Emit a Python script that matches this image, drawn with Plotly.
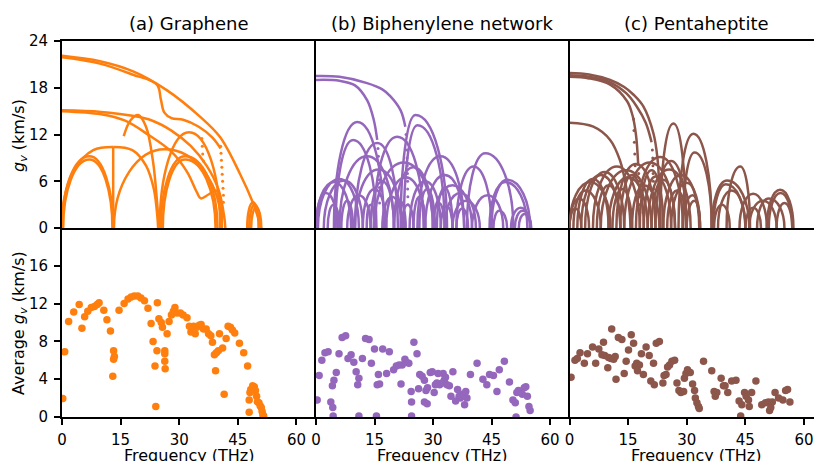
import plotly.graph_objects as go

W, H = 814, 461
ORANGE = "#ff7f0e"
PURPLE = "#9467bd"
BROWN = "#8c564b"
FONT = "DejaVu Sans"

# ---------------- top row: group-velocity curves (frequency THz, gv km/s) ----------------
graphene_lines = [
    [(0, 22.1), (9.7, 21.4), (18.2, 20.1), (26.8, 17.7), (35.3, 14.3), (40.4, 11.7), (45.5, 7.0), (48.9, 3.2), (50.4, 1.0), (51.0, 0.0)],
    [(0, 21.9), (9.7, 21.1), (18.0, 19.7), (24.3, 18.4), (25.3, 16.5), (26.2, 14.8), (28.0, 14.1), (31.0, 13.9), (35.0, 13.0), (38.5, 11.6), (40.6, 10.2)],
    [(0, 15.1), (10, 14.9), (18, 14.4), (23, 13.8), (28, 12.5), (33, 10.5), (37, 8.0), (40, 5.0), (41.5, 1.5), (41.8, 0)],
    [(0, 15.0), (10, 14.6), (16, 13.8), (22, 12.0), (28, 9.8), (32, 7.2), (34.5, 4.6), (35.5, 3.8), (37.5, 4.3), (39.5, 4.8), (40.5, 4.0), (40.9, 0)],
    [(13.1, 0), (13.1, 10.4)],
    [(0, 0), (0.4, 3.3), (3, 7.4), (8, 10.0), (13.1, 10.4)],
    [(13.1, 10.4), (18, 10.0), (21.5, 8.0), (23.5, 5.0), (24.4, 1.5), (24.6, 0)],
    [(15.8, 11.8), (17.5, 13.8), (19.5, 14.5), (21.5, 13.0), (23.3, 8.5), (24.3, 3.5), (24.8, 0)],
]
# arcs: (start f, peak f, peak gv, end f)
graphene_arcs = [
    (0.0, 7.0, 9.2, 13.1), (0.3, 7.0, 8.8, 12.9), (13.3, 26.3, 10.1, 40.8),
    (25.3, 31.5, 9.2, 39.8), (25.8, 31.5, 8.8, 39.3), (25.0, 32.5, 12.3, 40.5),
    (47.4, 48.9, 3.3, 50.3), (47.9, 49.3, 3.0, 50.8), (48.4, 49.7, 2.6, 51.0),
]
graphene_dots = [(40.6, 10.5), (40.7, 9.6), (40.8, 8.7), (40.9, 7.8), (41.0, 6.9), (41.1, 6.0), (41.2, 5.1),
                 (41.3, 4.2), (41.3, 3.3), (35.8, 11.5), (35.9, 10.5), (36.0, 9.5), (36.2, 8.6)]

biph_lines = [
    [(0, 19.5), (6, 19.4), (13.1, 18.6), (17, 17.8), (19.1, 16.9), (21.7, 15.1), (22.9, 13.0)],
    [(0, 19.0), (6, 18.9), (10, 18.3), (13.1, 16.4), (14.8, 13.9), (15.7, 11.3)],
]
biph_arcs = [
    (4.6, 10.6, 13.6, 17.4), (5.0, 9.5, 11.3, 15.5), (10.0, 15.7, 10.9, 21.0), (14.8, 20.8, 11.7, 27.6),
    (21.7, 25.5, 14.5, 33.6), (22.5, 26.0, 13.2, 33.0), (38.7, 43.4, 9.6, 50.6), (45.0, 49.0, 6.2, 54.9),
    (44.5, 48.5, 5.9, 54.2), (6.0, 13.1, 9.2, 20.0), (15.0, 22.5, 8.4, 30.0), (26.0, 31.9, 9.2, 38.0),
    (36.0, 40.4, 7.9, 45.0), (0.0, 4.6, 5.9, 9.0), (2.0, 7.2, 6.1, 12.0), (0.0, 2.5, 4.5, 5.5),
    (10.0, 16.0, 7.5, 22.0), (18.0, 23.0, 6.5, 28.0), (28.0, 33.0, 6.8, 38.0), (30.0, 35.0, 5.5, 40.0),
    (33.0, 37.0, 4.5, 41.0), (40.0, 44.0, 4.2, 48.0), (50.0, 52.5, 2.6, 55.0), (51.0, 53.0, 2.2, 55.2),
    (12.0, 15.0, 5.0, 18.0), (20.0, 25.0, 7.8, 30.0), (24.0, 28.0, 6.0, 32.0), (8.0, 11.0, 4.2, 14.0),
    (35.0, 38.5, 3.5, 42.0), (45.5, 47.0, 2.2, 49.0), (17.0, 19.5, 4.0, 22.0), (0.5, 6.0, 6.3, 11.0),
    (20.0, 21.5, 3.5, 23.0), (22.0, 23.5, 3.0, 25.0), (25.0, 26.5, 4.0, 28.0), (30.0, 31.5, 3.2, 33.0),
    (32.0, 33.5, 2.8, 35.0), (13.0, 14.0, 3.0, 15.0), (3.0, 4.5, 3.0, 6.0), (6.5, 8.0, 3.5, 9.5),
    (26.5, 28.5, 5.0, 30.5), (31.0, 33.0, 5.2, 35.0), (14.0, 17.0, 6.0, 20.0), (36.0, 37.5, 2.5, 39.0),
    (52.0, 53.5, 1.8, 55.0),
]
biph_dots = [(23.1, 12.0), (23.2, 11.0), (23.3, 10.0), (23.35, 9.0), (23.4, 8.0), (23.45, 7.0), (23.5, 6.0),
             (23.5, 5.0), (23.55, 4.0), (23.6, 3.0), (15.9, 10.2), (16.0, 9.2), (16.1, 8.2), (16.15, 7.2),
             (16.2, 6.2), (16.25, 5.2), (16.3, 4.2), (16.3, 3.2)]

penta_lines = [
    [(0, 19.9), (5, 19.7), (10.4, 19.0), (14, 18.1), (16.4, 17.1), (18.9, 15.6), (21.5, 12.1), (22.5, 9.0), (23.0, 5.0), (23.3, 0)],
    [(0, 19.6), (5, 19.4), (10.4, 18.7), (14.5, 17.3), (17.2, 15.6), (19.5, 13.5), (21.0, 11.0)],
    [(0, 19.4), (5, 19.2), (10.4, 18.4), (14.7, 16.3), (16.1, 14.5), (17.0, 12.0), (17.6, 8.0)],
    [(0, 13.5), (6.1, 13.0), (10.4, 11.3), (12.9, 8.7), (14.6, 5.0), (15.4, 2.0), (15.6, 0)],
]
penta_arcs = [
    (23.2, 26.6, 13.4, 29.8), (27.9, 31.7, 12.1, 36.4), (29.0, 32.0, 9.7, 36.4), (40.2, 43.7, 7.9, 46.2),
    (36.4, 40.3, 6.1, 46.0), (36.8, 40.0, 5.6, 45.0), (43.5, 47.0, 4.4, 50.5), (50.5, 53.9, 4.9, 57.3),
    (51.0, 54.0, 4.5, 57.0), (46.0, 49.5, 3.5, 53.0), (48.0, 51.0, 3.8, 55.0), (0.0, 5.3, 5.9, 10.5),
    (1.0, 4.0, 4.8, 8.0), (6.0, 12.1, 7.9, 18.0), (17.0, 23.2, 9.1, 29.0), (14.0, 20.5, 8.4, 27.0),
    (8.0, 14.5, 7.4, 21.0), (20.0, 25.5, 7.5, 31.0), (24.0, 28.5, 6.8, 33.2), (10.0, 15.0, 6.5, 20.0),
    (16.0, 19.0, 5.5, 23.0), (26.0, 30.0, 5.8, 33.4), (3.0, 8.0, 6.8, 13.0), (12.0, 17.0, 8.2, 22.0),
    (19.0, 22.0, 6.6, 26.0), (29.0, 31.5, 4.2, 33.4), (0.0, 2.5, 3.8, 5.0), (37.0, 39.0, 3.0, 41.0),
    (2.0, 6.0, 6.3, 10.0), (4.0, 9.0, 7.2, 14.0), (7.0, 10.0, 5.5, 13.0), (11.0, 13.5, 5.0, 16.0),
    (13.0, 16.0, 6.8, 19.0), (18.0, 21.0, 7.4, 24.0), (21.0, 24.0, 6.2, 27.0), (22.0, 26.0, 8.6, 30.0),
    (25.0, 27.5, 4.8, 30.0), (30.0, 32.0, 3.5, 33.4), (38.0, 41.5, 4.8, 45.0), (45.0, 47.0, 2.6, 49.0),
    (53.0, 55.0, 3.2, 57.0), (0.0, 1.5, 2.5, 3.0),
]
penta_dots = [(17.7, 7.0), (17.8, 6.0), (17.85, 5.0), (17.9, 4.0), (17.95, 3.0), (18.0, 2.0),
              (21.2, 10.0), (21.3, 9.0), (21.35, 8.0), (21.4, 7.0), (21.45, 6.0), (21.5, 5.0), (21.55, 4.0),
              (16.4, 14.0), (16.5, 12.5), (16.6, 11.0), (16.7, 9.5), (16.8, 8.0)]

# ---------------- bottom row: average group velocity ----------------
graphene_avg_f = [0.2, 0.7, 1.7, 3.0, 4.4, 5.1, 5.8, 6.6, 7.5, 8.3, 9.0, 9.5, 10.7, 11.5, 12.4, 13.2, 13.4, 13.2, 13.0,
                  14.6, 15.9, 16.9, 17.7, 18.5, 19.4, 20.2, 21.1, 22.0, 22.8, 23.3, 23.8, 24.0, 24.4, 24.3, 24.8, 25.4,
                  25.7, 26.3, 26.3, 26.4, 26.3, 26.9, 27.4, 28.0, 28.5, 28.9, 29.4, 30.3, 31.0, 32.0, 32.6, 33.0, 33.7,
                  34.1, 34.5, 35.1, 35.6, 36.2, 36.9, 37.5, 38.1, 38.5, 39.0, 39.5, 39.3, 40.0, 40.3, 41.1, 41.5, 42.0,
                  42.5, 43.1, 43.6, 44.2, 45.4, 46.5, 47.5, 47.9, 47.9, 48.1, 48.3, 48.8, 49.2, 49.5, 49.8, 50.0, 50.4,
                  50.7, 51.0, 51.2, 51.4, 51.6]
graphene_avg_gv = [1.95, 6.9, 10.1, 11.1, 11.9, 9.4, 10.6, 11.2, 11.6, 11.7, 11.9, 12.1, 11.3, 10.3, 9.1, 7.0, 6.4, 6.1, 4.3,
                   11.3, 12.0, 12.5, 12.7, 12.8, 12.8, 12.6, 12.3, 11.5, 9.9, 8.0, 5.4, 1.1, 12.1, 7.0, 10.4, 10.0,
                   9.5, 7.0, 5.9, 5.1, 6.7, 8.8, 10.1, 10.8, 11.2, 11.6, 11.0, 11.0, 10.8, 10.5, 9.6, 9.0, 9.6,
                   8.8, 9.5, 9.7, 9.8, 9.3, 9.3, 8.8, 8.6, 7.9, 6.6, 6.8, 4.9, 7.0, 8.8, 7.3, 2.4, 8.3,
                   9.6, 9.5, 9.2, 8.9, 7.8, 6.8, 5.4, 0.5, 1.8, 2.6, 2.9, 3.3, 3.2, 2.8, 2.2, 1.6, 1.5,
                   1.2, 1.0, 0.6, 0.25, 0.1]

biph_avg_f = [0.3, 0.8, 1.5, 2.3, 3.1, 3.8, 4.2, 4.6, 4.3, 4.4, 5.2, 5.9, 6.7, 7.6, 8.2, 9.0, 9.7, 10.3, 11.0, 10.7,
              11.0, 11.9, 12.7, 13.6, 14.2, 15.0, 15.5, 15.7, 16.3, 16.0, 17.1, 18.1, 18.8, 19.9, 20.6, 21.3, 21.8,
              22.1, 22.8, 23.2, 23.8, 24.4, 24.5, 24.5, 25.1, 25.9, 26.3, 26.6, 27.2, 27.8, 27.8, 28.5, 28.2, 28.6,
              29.3, 29.8, 30.3, 30.6, 31.0, 31.3, 31.7, 32.3, 32.6, 32.9, 33.2, 33.6, 34.2, 34.6, 35.1, 35.8, 36.3,
              36.7, 37.0, 37.4, 37.9, 38.1, 38.4, 38.7, 39.6, 41.3, 42.8, 43.8, 44.5, 45.5, 46.4, 47.0, 48.3, 49.6,
              50.5, 51.1, 51.3, 51.5, 51.9, 52.3, 52.9, 53.4, 53.8, 54.2, 54.6, 54.9]
biph_avg_gv = [1.8, 4.4, 6.0, 6.8, 6.9, 1.6, 3.3, 3.9, 1.0, 0.1, 4.7, 6.7, 8.4, 8.6, 6.2, 6.6, 5.8, 4.8, 4.1, 3.4,
               0.1, 6.2, 8.3, 8.2, 5.7, 7.2, 0.1, 3.4, 3.5, 4.5, 7.2, 4.6, 6.9, 5.0, 5.4, 5.5, 3.5,
               5.5, 6.1, 5.8, 5.7, 2.7, 1.6, 0.1, 7.9, 6.7, 3.0, 4.5, 4.3, 3.9, 1.6, 1.4, 2.8, 3.1,
               4.7, 4.8, 2.6, 3.4, 3.6, 4.6, 3.4, 3.6, 4.6, 3.9, 4.2, 3.4, 3.3, 2.2, 4.8, 1.7, 2.9,
               2.2, 2.0, 2.4, 2.2, 1.3, 2.7, 2.0, 4.5, 5.7, 4.0, 3.4, 4.5, 4.4, 2.7, 5.0, 5.9, 3.7,
               1.8, 1.5, 0.0, 2.6, 2.8, 2.7, 2.4, 3.1, 3.2, 2.2, 1.1, 0.7]

penta_avg_f = [0.4, 1.4, 2.0, 2.7, 3.8, 4.6, 5.9, 6.7, 7.5, 8.3, 8.7, 9.0, 9.8, 10.0, 10.6, 10.8, 11.3, 11.7, 11.9,
               12.5, 13.4, 14.0, 14.5, 15.1, 15.8, 16.4, 16.8, 17.2, 17.4, 17.9, 18.4, 18.9, 19.6, 20.4, 20.8, 21.5,
               21.7, 22.2, 23.0, 23.9, 24.2, 24.7, 25.1, 25.6, 26.2, 26.9, 27.5, 28.0, 28.5, 29.2, 29.4, 29.8, 30.2,
               30.9, 31.5, 32.0, 32.2, 32.6, 33.0, 33.2, 34.3, 36.4, 37.0, 37.3, 37.7, 38.8, 39.4, 39.8, 40.5, 41.5,
               42.6, 43.4, 43.8, 44.1, 44.8, 45.2, 45.8, 46.0, 46.6, 47.7, 49.2, 50.1, 50.9, 51.2, 51.5, 51.9, 52.6,
               53.5, 54.6, 55.3, 55.8, 56.4]
penta_avg_gv = [4.2, 6.0, 6.2, 6.8, 5.7, 6.7, 7.4, 5.7, 7.2, 6.6, 7.9, 6.5, 5.2, 6.3, 6.2, 9.3, 6.1, 6.4, 4.0,
                8.4, 8.2, 4.6, 5.9, 7.1, 8.7, 7.8, 5.4, 5.7, 4.9, 5.5, 6.7, 4.5, 7.4, 6.5, 3.8, 5.7,
                3.4, 7.8, 8.0, 3.6, 4.4, 4.5, 5.3, 5.5, 5.9, 6.0, 3.6, 2.8, 2.6, 2.7, 4.1, 4.6, 5.0,
                4.7, 3.5, 2.8, 2.0, 1.5, 1.1, 0.9, 5.9, 4.9, 2.7, 2.2, 2.6, 4.1, 3.3, 3.3, 2.6, 3.8,
                3.9, 1.7, 0.1, 1.3, 2.6, 2.2, 1.8, 1.1, 2.6, 3.8, 1.3, 1.5, 1.6, 0.7, 1.0, 1.6, 2.6,
                2.0, 1.8, 2.8, 2.9, 1.6]

freq_ticks = [0, 15, 30, 45, 60]
gv_ticks_top = [0, 6, 12, 18, 24]
gv_ticks_bottom = [0, 4, 8, 12, 16]
titles = ["(a) Graphene", "(b) Biphenylene network", "(c) Pentaheptite"]

# ---------------- figure ----------------
fig = go.Figure()
shapes = []
panels = [
    (graphene_lines, graphene_arcs, graphene_dots, graphene_avg_f, graphene_avg_gv, ORANGE),
    (biph_lines, biph_arcs, biph_dots, biph_avg_f, biph_avg_gv, PURPLE),
    (penta_lines, penta_arcs, penta_dots, penta_avg_f, penta_avg_gv, BROWN),
]
K = 0.5523
for i, (lines, arcs, dots, af, agv, col) in enumerate(panels):
    xt = "x" if i == 0 else f"x{i+1}"
    yt = "y" if i == 0 else f"y{i+1}"
    for ln in lines:
        fig.add_trace(go.Scatter(x=[p[0] for p in ln], y=[p[1] for p in ln], mode="lines",
                                 line=dict(color=col, width=2.5, shape="spline", smoothing=1.0),
                                 xaxis=xt, yaxis=yt, showlegend=False, hoverinfo="skip"))
    for (s, pf, h, e) in arcs:
        path = (f"M {s},0 C {s},{K*h} {pf-K*(pf-s)},{h} {pf},{h} "
                f"C {pf+K*(e-pf)},{h} {e},{K*h} {e},0")
        shapes.append(dict(type="path", path=path, xref=xt, yref=yt,
                           line=dict(color=col, width=2.5), fillcolor="rgba(0,0,0,0)", layer="above"))
    fig.add_trace(go.Scatter(x=[p[0] for p in dots], y=[p[1] for p in dots], mode="markers",
                             marker=dict(color=col, size=3), xaxis=xt, yaxis=yt,
                             showlegend=False, hoverinfo="skip"))
    xb = f"x{i+4}"
    yb = f"y{i+4}"
    fig.add_trace(go.Scatter(x=af, y=agv, mode="markers", marker=dict(color=col, size=7.5, line=dict(width=0)),
                             xaxis=xb, yaxis=yb, showlegend=False))

xdom = [[62/W, 316/W], [316/W, 569.5/W], [569.5/W, 1.0]]
xrng = [[0, 65], [0, 65], [0, (W - 569.5) / 3.908]]
ydom_top = [1 - 228/H, 1 - 41/H]
ydom_bot = [1 - 417/H, 1 - 228/H]

axis_common = dict(showgrid=False, zeroline=False, showline=True, linecolor="black", linewidth=1.8,
                   ticks="outside", ticklen=6, tickwidth=1.5, tickcolor="black", automargin=False,
                   tickfont=dict(family=FONT, size=15, color="black"))
layout = dict(width=W, height=H, margin=dict(l=0, r=0, t=0, b=0, autoexpand=False), autosize=False,
              plot_bgcolor="white", paper_bgcolor="white", showlegend=False)
for i in range(3):
    top = i + 1
    bot = i + 4
    kx = "xaxis" if top == 1 else f"xaxis{top}"
    ky = "yaxis" if top == 1 else f"yaxis{top}"
    # top row: bottom line + mirrored top spine; bottom row shares the line at the row boundary
    layout[kx] = dict(axis_common, domain=xdom[i], range=xrng[i], anchor="y" if top == 1 else f"y{top}",
                      ticks="", showticklabels=False, mirror=True)
    layout[ky] = dict(axis_common, domain=ydom_top, range=[0, 24], anchor="x" if top == 1 else f"x{top}",
                      tickvals=gv_ticks_top, mirror=False,
                      ticks="outside" if i == 0 else "", showticklabels=(i == 0), ticklabelstandoff=3)
    layout[f"xaxis{bot}"] = dict(axis_common, domain=xdom[i], range=xrng[i], anchor=f"y{bot}",
                                 tickvals=freq_ticks, mirror=False, ticklabelstandoff=2)
    layout[f"yaxis{bot}"] = dict(axis_common, domain=ydom_bot, range=[0, 20], anchor=f"x{bot}",
                                 tickvals=gv_ticks_bottom, mirror=False,
                                 ticks="outside" if i == 0 else "", showticklabels=(i == 0), ticklabelstandoff=3)

title_x = [189/W, 442.5/W, 696/W]
ann = []
for i, t in enumerate(titles):
    ann.append(dict(text=t, x=title_x[i], y=1 - 24/H, xref="paper", yref="paper", showarrow=False,
                    xanchor="center", yanchor="middle", font=dict(family=FONT, size=18, color="black")))
    ann.append(dict(text="Frequency (THz)", x=title_x[i], y=1 - 444/H, xref="paper", yref="paper",
                    showarrow=False, xanchor="center", yanchor="top",
                    font=dict(family=FONT, size=16, color="black")))
ann.append(dict(text="<i>g</i><sub><i>v</i></sub> (km/s)", x=19/W, y=1 - 136/H, xref="paper", yref="paper",
                showarrow=False, textangle=-90, xanchor="center", yanchor="middle",
                font=dict(family=FONT, size=16, color="black")))
ann.append(dict(text="Average <i>g</i><sub><i>v</i></sub> (km/s)", x=19/W, y=1 - 323/H, xref="paper", yref="paper",
                showarrow=False, textangle=-90, xanchor="center", yanchor="middle",
                font=dict(family=FONT, size=16, color="black")))
layout["annotations"] = ann
layout["shapes"] = shapes
fig.update_layout(**layout)
fig.write_html("out.html")
